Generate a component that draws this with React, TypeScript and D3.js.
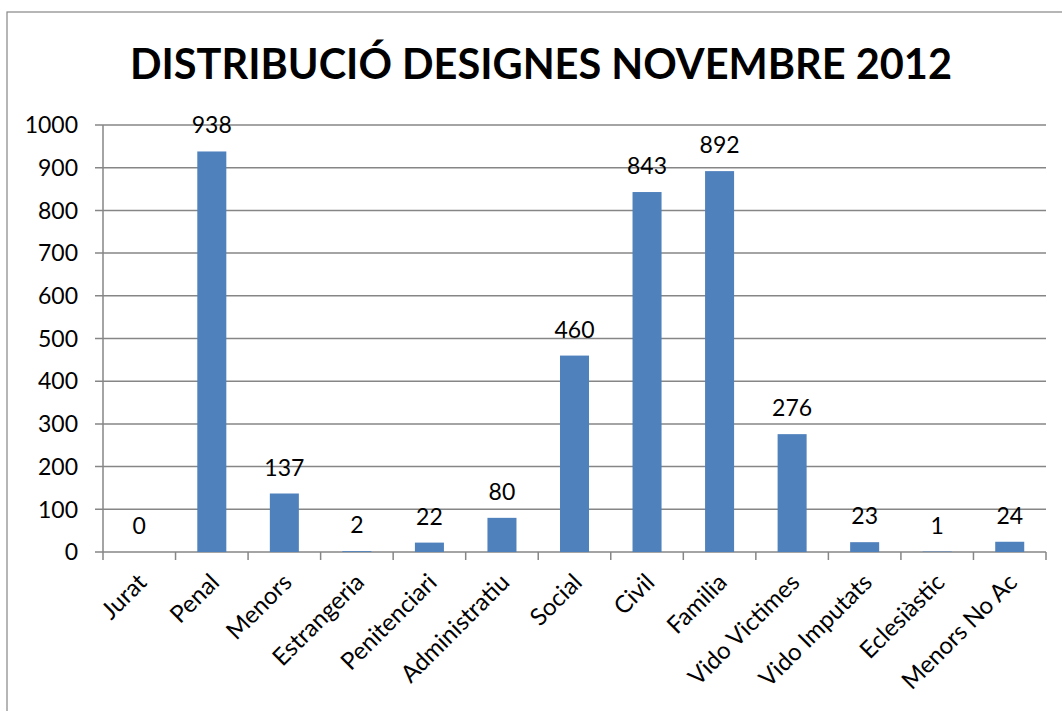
import React from 'react';
import * as d3 from 'd3';

const categories = ['Jurat', 'Penal', 'Menors', 'Estrangeria', 'Penitenciari', 'Administratiu', 'Social', 'Civil', 'Familia', 'Vido Victimes', 'Vido Imputats', 'Eclesiàstic', 'Menors No Ac'];
const values = [0, 938, 137, 2, 22, 80, 460, 843, 892, 276, 23, 1, 24];
const yTicks = [0, 100, 200, 300, 400, 500, 600, 700, 800, 900, 1000];
const title = 'DISTRIBUCIÓ DESIGNES NOVEMBRE 2012';

const W = 1062;
const H = 711;
const margin = { top: 125, right: 16, bottom: 159, left: 103 };
const font = 'Lato, "Open Sans", sans-serif';

const App = () => {
  const innerW = W - margin.left - margin.right;
  const innerH = H - margin.top - margin.bottom;

  const x = d3.scaleBand<string>().domain(categories).range([0, innerW]).paddingInner(0.6).paddingOuter(0.3);
  const band = innerW / categories.length;
  const y = d3.scaleLinear().domain([0, 1000]).range([innerH, 0]);

  return (
    <svg width={W} height={H} style={{ position: 'absolute', left: 0, top: 0 }}>
      <rect x={0} y={0} width={W} height={H} fill="#fff" />
      <rect x={7} y={12} width={W + 10} height={H + 10} fill="none" stroke="#868686" strokeWidth={1.2} />
      <text x={541} y={79} textAnchor="middle" fontFamily={font} fontWeight="bold" fontSize={41.5} fill="#000">
        {title}
      </text>
      <g transform={`translate(${margin.left},${margin.top})`}>
        {/* gridlines and y labels */}
        {yTicks.map(t => (
          <g key={t}>
            <line x1={-8} x2={innerW} y1={y(t)} y2={y(t)} stroke="#868686" strokeWidth={1.5} />
            <text x={-25} y={y(t)} dy="0.36em" textAnchor="end" fontFamily={font} fontSize={23} fill="#000">
              {t}
            </text>
          </g>
        ))}
        <line x1={0} x2={0} y1={0} y2={innerH} stroke="#868686" strokeWidth={1.5} />
        {/* x ticks */}
        {d3.range(categories.length + 1).map(i => (
          <line key={i} x1={i * band} x2={i * band} y1={innerH} y2={innerH + 8} stroke="#868686" strokeWidth={1.5} />
        ))}
        {/* bars */}
        {categories.map((c, i) => (
          <rect key={c} x={x(c)} y={y(values[i])} width={x.bandwidth()} height={innerH - y(values[i])} fill="#4F81BD" />
        ))}
        {/* value labels */}
        {categories.map((c, i) => (
          <text key={c} x={(x(c) as number) + x.bandwidth() / 2} y={y(values[i]) - 18} textAnchor="middle" fontFamily={font} fontSize={23} fill="#000">
            {values[i]}
          </text>
        ))}
        {/* category labels */}
        {categories.map(c => {
          const cx = (x(c) as number) + x.bandwidth() / 2 - 3;
          const cy = innerH + 20;
          return (
            <text key={c} transform={`translate(${cx},${cy}) rotate(-45)`} textAnchor="end" dy="0.7em" fontFamily={font} fontSize={24} fill="#000">
              {c}
            </text>
          );
        })}
      </g>
    </svg>
  );
};

export default App;
